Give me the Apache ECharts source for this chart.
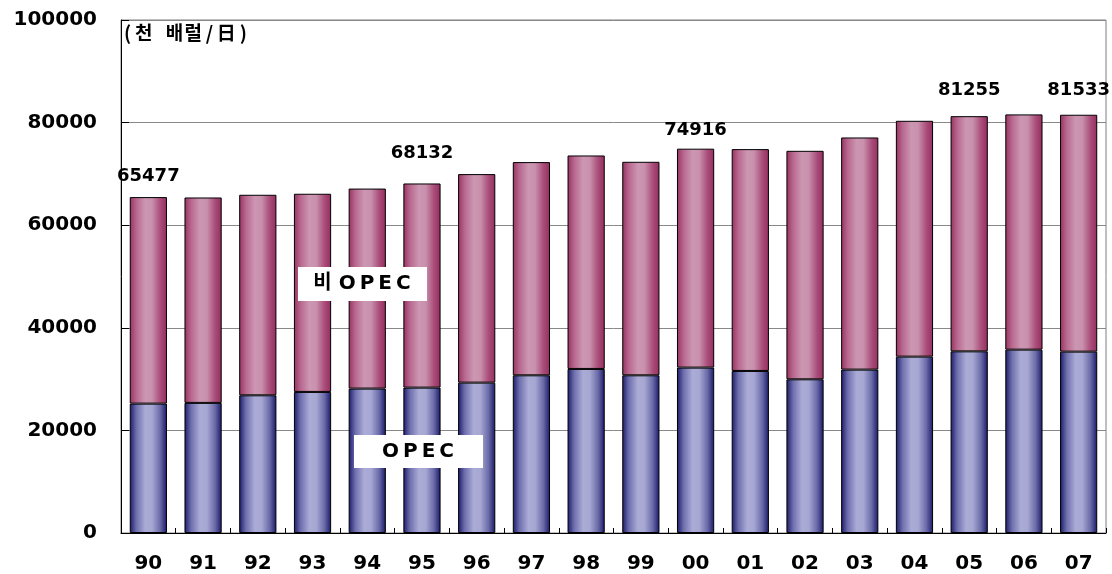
<!DOCTYPE html>
<html>
<head>
<meta charset="utf-8">
<script src="https://cdn.jsdelivr.net/npm/echarts@6/dist/echarts.min.js"></script>
<style>
  html, body { margin: 0; padding: 0; background: #fff; }
  #chart { width: 1112px; height: 574px; }
</style>
</head>
<body>
<div id="chart"></div>
<script>
// 연도 (90 ~ 07)
const years = ['90', '91', '92', '93', '94', '95', '96', '97', '98', '99', '00', '01', '02', '03', '04', '05', '06', '07'];
// OPEC 생산량 (천 배럴/日)
const opec = [25220, 25360, 26840, 27500, 28150, 28340, 29310, 30740, 31980, 30740, 32240, 31590, 29960, 31850, 34380, 35410, 35740, 35350];
// 비 OPEC 생산량
const nonOpec = [40257, 40040, 39090, 38630, 38990, 39792, 40650, 41560, 41610, 41620, 42676, 43240, 44540, 45250, 45970, 45845, 45860, 46183];
// 막대 위에 표시되는 합계
const totalLabels = { 0: 65477, 5: 68132, 10: 74916, 15: 81255, 17: 81533 };
const yTicks = [0, 20000, 40000, 60000, 80000, 100000];

const FONT = '"DejaVu Sans", "Noto Sans CJK KR", sans-serif';
const thin = s => String(s).split('').join('\u2009');

// 라벨 위치 조정 (원본 그림 기준)
const labelGap = { 0: 12, 5: 21, 10: 9, 15: 17, 17: 15 };

const chart = echarts.init(document.getElementById('chart'));

const opecGrad = new echarts.graphic.LinearGradient(0, 0, 1, 0, [
  { offset: 0, color: '#1a1a6a' },
  { offset: 0.18, color: '#6f6fae' },
  { offset: 0.42, color: '#abacd6' },
  { offset: 0.6, color: '#a6a7d2' },
  { offset: 0.82, color: '#6a6aa8' },
  { offset: 1, color: '#181868' },
]);
const nonGrad = new echarts.graphic.LinearGradient(0, 0, 1, 0, [
  { offset: 0, color: '#973260' },
  { offset: 0.18, color: '#b8688f' },
  { offset: 0.42, color: '#cc97b2' },
  { offset: 0.6, color: '#c890ac' },
  { offset: 0.82, color: '#aa4d7a' },
  { offset: 1, color: '#932e5e' },
]);

const nonOpecData = nonOpec.map((v, i) => {
  const item = { value: v };
  if (totalLabels[i] !== undefined) {
    item.label = {
      show: true,
      position: 'top',
      distance: labelGap[i],
      formatter: () => String(totalLabels[i]),
    };
  }
  return item;
});

const option = {
  animation: false,
  grid: {
    left: 121, right: 6, top: 20, bottom: 41,
    show: true,
    borderColor: '#7f7f7f',
    borderWidth: 1,
  },
  xAxis: {
    type: 'category',
    data: years,
    axisLine: { lineStyle: { color: '#000', width: 1 } },
    axisTick: { show: true, inside: true, length: 5, lineStyle: { color: '#000' } },
    axisLabel: {
      margin: 21,
      color: '#000',
      fontFamily: FONT,
      fontWeight: 'bold',
      fontSize: 20,
    },
  },
  yAxis: {
    type: 'value',
    min: 0,
    max: 100000,
    interval: 20000,
    axisLine: { show: true, lineStyle: { color: '#000', width: 1 } },
    axisTick: { show: true, inside: true, length: 8, lineStyle: { color: '#000' } },
    splitLine: { lineStyle: { color: '#888', width: 1 } },
    axisLabel: {
      margin: 24,
      color: '#000',
      fontFamily: FONT,
      fontWeight: 'bold',
      fontSize: 20,
      formatter: v => yTicks.includes(v) ? String(v) : '',
    },
  },
  series: [
    {
      name: 'OPEC',
      type: 'bar',
      stack: 'total',
      barWidth: '68%',
      data: opec,
      itemStyle: { color: opecGrad, borderColor: '#000', borderWidth: 1 },
    },
    {
      name: '비 OPEC',
      type: 'bar',
      stack: 'total',
      barWidth: '68%',
      data: nonOpecData,
      itemStyle: { color: nonGrad, borderColor: '#000', borderWidth: 1 },
      label: {
        show: false,
        color: '#000',
        fontFamily: FONT,
        fontWeight: 'bold',
        fontSize: 18,
      },
    },
  ],
  graphic: [
    {
      type: 'text',
      left: 124,
      top: 23,
      z: 100,
      style: {
        text: '(\u2009천\u2002\u2009배\u200a럴\u2009/\u2009日\u2009)',
        fill: '#000',
        font: 'bold 19px "Noto Sans CJK KR", sans-serif',
      },
    },
    {
      type: 'group',
      left: 298,
      top: 267,
      z: 100,
      children: [
        { type: 'rect', z: 100, shape: { x: 0, y: 0, width: 129, height: 34 }, style: { fill: '#fff' } },
        {
          type: 'text', z: 101, x: 64, y: 17,
          style: { text: '비 ' + thin('OPEC'), fill: '#000', font: 'bold 20px ' + FONT, align: 'center', verticalAlign: 'middle' },
        },
      ],
    },
    {
      type: 'group',
      left: 354,
      top: 435,
      z: 100,
      children: [
        { type: 'rect', z: 100, shape: { x: 0, y: 0, width: 129, height: 33 }, style: { fill: '#fff' } },
        {
          type: 'text', z: 101, x: 64, y: 17,
          style: { text: thin('OPEC'), fill: '#000', font: 'bold 20px ' + FONT, align: 'center', verticalAlign: 'middle' },
        },
      ],
    },
  ],
};

chart.setOption(option);
</script>
</body>
</html>
